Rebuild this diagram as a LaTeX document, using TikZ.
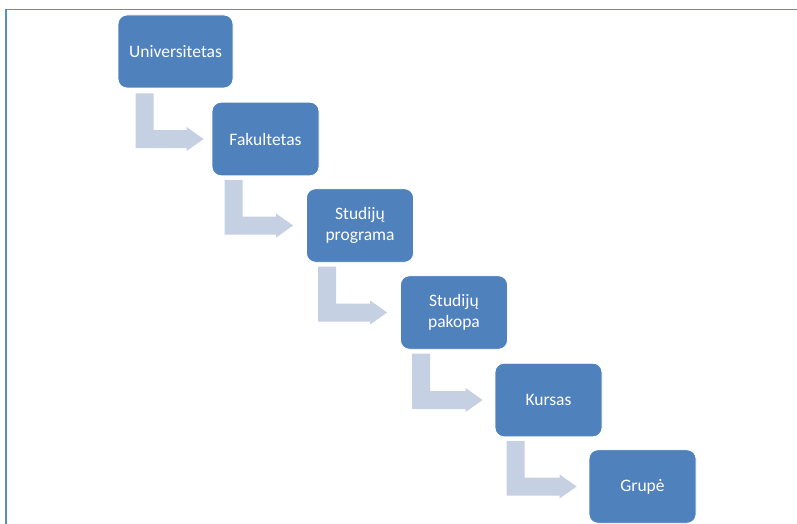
\documentclass[tikz,border=0pt]{standalone}
\usepackage{fontspec}
\setmainfont{Carlito}
\usetikzlibrary{calc}
\definecolor{boxblue}{RGB}{79,129,189}
\definecolor{arrowgray}{RGB}{197,208,226}
\definecolor{framecol}{RGB}{91,139,207}
\tikzset{
  stagebox/.style={draw=white, line width=0.8pt, fill=boxblue, rounded corners=9pt,
    text=white, font=\fontsize{17.5}{21}\selectfont, align=center, inner sep=0pt,
    minimum width=107pt, minimum height=73.5pt},
  arrowfill/.style={fill=arrowgray}
}
\newcommand\bentarrow[2]{%
  \fill[arrowfill] let \p1=#1, \p2=#2 in
    (\x1,\y1) -- (\x1+18pt,\y1) -- (\x1+18pt,\y2+9pt) -- (\x2-17pt,\y2+9pt)
    -- (\x2-17pt,\y2+12pt) -- (\x2,\y2) -- (\x2-17pt,\y2-12pt)
    -- (\x2-17pt,\y2-9pt) -- (\x1,\y2-9pt) -- cycle;}
\begin{document}
\begin{tikzpicture}[x=1pt,y=-1pt]
\useasboundingbox (0,0) rectangle (797,524);
\draw[framecol, line width=1.6pt] (6,524) -- (6,9.5) -- (797,9.5);
\node[stagebox, minimum width=115pt, minimum height=73pt] (b1) at (175.5,51.5) {Universitetas};
\node[stagebox] (b2) at (265.5,139) {Fakultetas};
\node[stagebox] (b3) at (360,225.5) {Studijų\\programa};
\node[stagebox] (b4) at (454,312.5) {Studijų\\pakopa};
\node[stagebox] (b5) at (548.5,400) {Kursas};
\node[stagebox] (b6) at (642.5,486.5) {Grupė};
\bentarrow{($(b1.south west)+(18,5)$)}{($(b2.west)+(-8,0)$)}
\bentarrow{($(b2.south west)+(13,4)$)}{($(b3.west)+(-13,0)$)}
\bentarrow{($(b3.south west)+(12,4)$)}{($(b4.west)+(-13,0)$)}
\bentarrow{($(b4.south west)+(12,4)$)}{($(b5.west)+(-12,0)$)}
\bentarrow{($(b5.south west)+(12,4)$)}{($(b6.west)+(-12,0)$)}
\end{tikzpicture}
\end{document}
